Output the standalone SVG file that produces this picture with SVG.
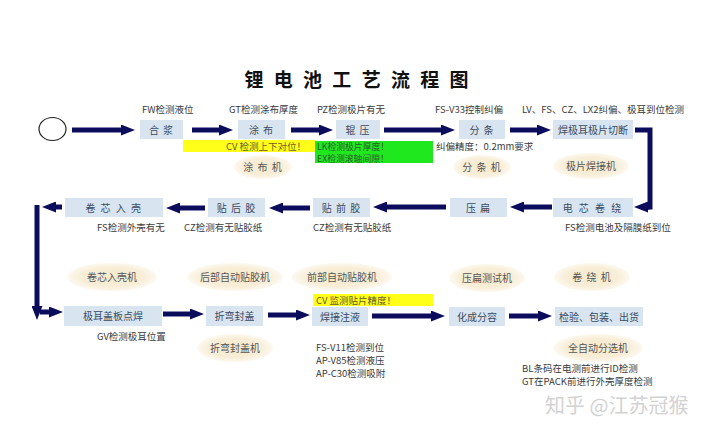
<svg xmlns="http://www.w3.org/2000/svg" width="720" height="432" viewBox="0 0 720 432">
<style>
text{font-family:"Noto Sans CJK SC","Liberation Sans",sans-serif}
.box{fill:#d8e5f1}
.bt{font-size:10px;fill:#3a4a5e;text-anchor:middle}
.lbl{font-size:9.5px;fill:#3a3a3a}
.ell{fill:url(#eg)}
.et{font-size:10px;fill:#555;text-anchor:middle}
.ar{stroke:#0c0c5c;stroke-width:5;fill:none}
.title{font-size:19px;font-weight:bold;fill:#111;letter-spacing:3px;text-anchor:middle}
</style>
<defs>
<radialGradient id="eg" cx="0.5" cy="0.5" r="0.5">
<stop offset="0" stop-color="#f6e9cc"/>
<stop offset="0.7" stop-color="#f8eed8"/>
<stop offset="1" stop-color="#fdf9f0"/>
</radialGradient>
<marker id="ah" markerUnits="userSpaceOnUse" markerWidth="14" markerHeight="11" refX="0" refY="5.5" orient="auto">
<path d="M0,0 L14,5.5 L0,11 z" fill="#0c0c5c"/>
</marker>
</defs>
<rect width="720" height="432" fill="#fff"/>
<text class="title" x="358" y="87">锂 电 池 工 艺 流 程 图</text>

<g id="start"><ellipse cx="52.5" cy="129" rx="13.5" ry="11.5" fill="#fff" stroke="#222" stroke-width="1.2"/></g>

<g id="connectors">
<line class="ar" x1="72" y1="130" x2="121" y2="130" marker-end="url(#ah)"/>
<line class="ar" x1="192" y1="130" x2="219" y2="130" marker-end="url(#ah)"/>
<line class="ar" x1="291" y1="130" x2="319" y2="130" marker-end="url(#ah)"/>
<line class="ar" x1="384" y1="130" x2="441" y2="130" marker-end="url(#ah)"/>
<line class="ar" x1="510" y1="130" x2="537" y2="130" marker-end="url(#ah)"/>
<path class="ar" d="M635,130 H650 V207 H648"/>
<line class="ar" x1="650" y1="207" x2="648" y2="207" marker-end="url(#ah)"/>
<line class="ar" x1="552" y1="207" x2="524" y2="207" marker-end="url(#ah)"/>
<line class="ar" x1="446" y1="207" x2="387" y2="207" marker-end="url(#ah)"/>
<line class="ar" x1="310" y1="208" x2="283" y2="208" marker-end="url(#ah)"/>
<line class="ar" x1="205" y1="208" x2="180" y2="208" marker-end="url(#ah)"/>
<line class="ar" x1="62" y1="207" x2="56" y2="207" marker-end="url(#ah)"/>
<line class="ar" x1="37" y1="205" x2="37" y2="306" marker-end="url(#ah)"/>
<line class="ar" x1="40" y1="312" x2="49" y2="312" marker-end="url(#ah)"/>
<line class="ar" x1="163" y1="314" x2="190" y2="314" marker-end="url(#ah)"/>
<line class="ar" x1="268" y1="315" x2="296" y2="315" marker-end="url(#ah)"/>
<line class="ar" x1="372" y1="316" x2="431" y2="316" marker-end="url(#ah)"/>
<line class="ar" x1="509" y1="316" x2="538" y2="316" marker-end="url(#ah)"/>
</g>

<g id="n-hejiang"><rect class="box" x="140" y="120" width="43" height="19"/><text class="bt" x="161.5" y="133.5" letter-spacing="1">合 浆</text><text class="lbl" x="142" y="113">FW检测液位</text></g>

<g id="n-tubu"><rect class="box" x="238" y="120" width="47" height="19"/><text class="bt" x="261.5" y="133.5" letter-spacing="1">涂 布</text><text class="lbl" x="229" y="113">GT检测涂布厚度</text>
<rect x="183" y="140" width="132" height="12" fill="#ffff1a"/><text x="306" y="150" font-size="9.5" fill="#6a5a30" text-anchor="end">CV 检测上下对位！</text>
<ellipse class="ell" cx="263" cy="167" rx="29" ry="12"/><text class="et" x="263" y="171" letter-spacing="1">涂 布 机</text></g>

<g id="n-gunya"><rect class="box" x="336" y="120" width="44" height="19"/><text class="bt" x="358" y="133.5" letter-spacing="1">辊 压</text><text class="lbl" x="317" y="113">PZ检测极片有无</text>
<rect x="315" y="141" width="118" height="22" fill="#1fe81f"/><text x="317" y="150" font-size="8.8" fill="#2d5a2d">LK检测极片厚度！</text><text x="317" y="161.5" font-size="8.8" fill="#2d5a2d">EX检测滚轴间隙！</text></g>

<g id="n-fentiao"><rect class="box" x="459" y="120" width="46" height="19"/><text class="bt" x="482" y="133.5" letter-spacing="1">分 条</text><text class="lbl" x="435" y="113">FS-V33控制纠偏</text>
<text class="lbl" x="436" y="150">纠偏精度：0.2mm要求</text>
<ellipse class="ell" cx="482" cy="167" rx="29" ry="12"/><text class="et" x="482" y="171" letter-spacing="1">分 条 机</text></g>

<g id="n-hanjier"><rect class="box" x="553" y="120" width="80" height="19"/><text class="bt" x="593" y="133.5">焊极耳极片切断</text><text class="lbl" x="522" y="113">LV、FS、CZ、LX2纠偏、极耳到位检测</text>
<ellipse class="ell" cx="591" cy="166" rx="38" ry="13"/><text class="et" x="591" y="170">极片焊接机</text></g>

<g id="n-juanrao"><rect class="box" x="553" y="198" width="80" height="19"/><text class="bt" x="593" y="211.5" letter-spacing="2">电 芯 卷 绕</text><text class="lbl" x="565" y="231">FS检测电池及隔膜纸到位</text>
<ellipse class="ell" cx="592" cy="277" rx="38" ry="14"/><text class="et" x="592" y="281" letter-spacing="1">卷 绕 机</text></g>

<g id="n-yabian"><rect class="box" x="450" y="198" width="57" height="19"/><text class="bt" x="478.5" y="211.5" letter-spacing="1">压 扁</text>
<ellipse class="ell" cx="487" cy="278" rx="38" ry="14"/><text class="et" x="487" y="282">压扁测试机</text></g>

<g id="n-tieqianjiao"><rect class="box" x="313" y="198" width="57" height="19"/><text class="bt" x="341.5" y="211.5" letter-spacing="1">贴 前 胶</text><text class="lbl" x="313" y="231">CZ检测有无贴胶纸</text>
<ellipse class="ell" cx="342" cy="277" rx="50" ry="14"/><text class="et" x="342" y="281">前部自动贴胶机</text></g>

<g id="n-tiehoujiao"><rect class="box" x="208" y="198" width="57" height="19"/><text class="bt" x="236.5" y="211.5" letter-spacing="1">贴 后 胶</text><text class="lbl" x="184" y="231">CZ检测有无贴胶纸</text>
<ellipse class="ell" cx="235" cy="277" rx="48" ry="14"/><text class="et" x="235" y="281">后部自动贴胶机</text></g>

<g id="n-ruke"><rect class="box" x="65" y="198" width="98" height="19"/><text class="bt" x="114" y="211.5" letter-spacing="1.5">卷 芯 入 壳</text><text class="lbl" x="97" y="231">FS检测外壳有无</text>
<ellipse class="ell" cx="112" cy="277" rx="45" ry="14"/><text class="et" x="112" y="281">卷芯入壳机</text></g>

<g id="n-dianhan"><rect class="box" x="64" y="306" width="98" height="20"/><text class="bt" x="113" y="320">极耳盖板点焊</text><text class="lbl" x="97" y="340">GV检测极耳位置</text></g>

<g id="n-zhewan"><rect class="box" x="206" y="306" width="57" height="20"/><text class="bt" x="234.5" y="320">折弯封盖</text>
<ellipse class="ell" cx="235" cy="348" rx="38" ry="14"/><text class="et" x="235" y="352">折弯封盖机</text></g>

<g id="n-zhuye"><rect class="box" x="312" y="307" width="56" height="19"/><text class="bt" x="340" y="320.5">焊接注液</text>
<rect x="313" y="294" width="120" height="12" fill="#ffff1a"/><text x="316" y="304" font-size="9.5" fill="#6a5a30">CV 监测贴片精度！</text>
<text class="lbl" x="316" y="351" font-size="9.5">FS-V11检测到位</text>
<text class="lbl" x="316" y="364" font-size="9.5">AP-V85检测液压</text>
<text class="lbl" x="316" y="377" font-size="9.5">AP-C30检测吸附</text></g>

<g id="n-huacheng"><rect class="box" x="449" y="307" width="56" height="19"/><text class="bt" x="477" y="320.5">化成分容</text></g>

<g id="n-chuhuo"><rect class="box" x="555" y="307" width="88" height="19"/><text class="bt" x="599" y="320.5">检验、包装、出货</text>
<ellipse class="ell" cx="598" cy="348" rx="45" ry="14"/><text class="et" x="598" y="352">全自动分选机</text>
<text class="lbl" x="522" y="372" font-size="9">BL条码在电测前进行ID检测</text>
<text class="lbl" x="522" y="385" font-size="9">GT在PACK前进行外壳厚度检测</text></g>

<text x="545" y="413" font-size="20" fill="#d2d2d2">知乎 @江苏冠猴</text>
</svg>
